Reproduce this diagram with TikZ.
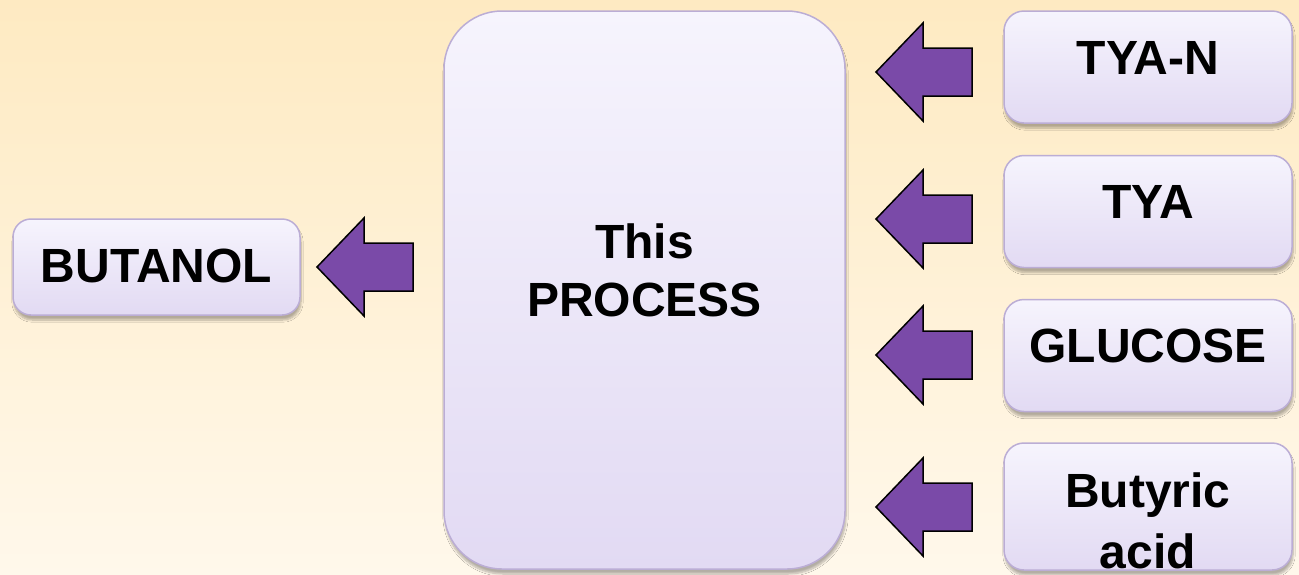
\documentclass[tikz,border=0pt]{standalone}
\usepackage{fontspec}
\setmainfont{Liberation Sans}
\usetikzlibrary{shadows.blur}
\definecolor{bgtop}{HTML}{FEEAC2}
\definecolor{bgbot}{HTML}{FFF8EB}
\definecolor{boxtop}{HTML}{F6F4FD}
\definecolor{boxbot}{HTML}{E2DAF3}
\definecolor{boxline}{HTML}{BBADD5}
\definecolor{arrowfill}{HTML}{7A4AA8}
\newcommand\blockarrow[1]{\draw[barrow] (#1) -- ++(47,-49) -- ++(0,25) -- ++(49,0) -- ++(0,48) -- ++(-49,0) -- ++(0,25) -- cycle;}
\begin{document}
\begin{tikzpicture}[x=1pt,y=-1pt,
  box/.style={draw=boxline, line width=1.5pt, top color=boxtop, bottom color=boxbot,
    inner sep=0pt, align=center, font=\fontsize{48}{60}\selectfont\bfseries,
    blur shadow={shadow xshift=1pt, shadow yshift=-5pt, shadow blur steps=8, shadow opacity=30}},
  inbox/.style={box, minimum width=288pt, minimum height=112pt, rounded corners=20pt, text height=40pt, text depth=26pt},
  barrow/.style={draw=black, line width=1.5pt, fill=arrowfill, line join=miter}]
\shade[top color=bgtop, bottom color=bgbot] (0,0) rectangle (1299,574);
\useasboundingbox (0,0) rectangle (1299,574);

\node[box, minimum width=401pt, minimum height=558pt, rounded corners=58pt,
  text height=52pt, text depth=0pt, font=\fontsize{48}{58}\selectfont\bfseries] (proc) at (644.5,290) {This\\PROCESS};
\node[box, minimum width=287pt, minimum height=96pt, rounded corners=18pt,
  text height=40pt, text depth=10pt] (but) at (156.5,267) {BUTANOL};

\node[inbox] (tyan) at (1148,67) {TYA-N};
\node[inbox] (tya) at (1148,211.5) {TYA};
\node[inbox] (glu) at (1148,355.5) {GLUCOSE};
\node[box, minimum width=288pt, minimum height=127pt, rounded corners=20pt,
  text height=124pt, text depth=0pt, font=\fontsize{48}{61}\selectfont\bfseries] (bacid) at (1148,506.5) {Butyric\\acid};

\coordinate (aout) at (317,267);
\coordinate (a1) at (876,72);
\coordinate (a2) at (876,219);
\coordinate (a3) at (876,355);
\coordinate (a4) at (876,507);
\blockarrow{aout}
\blockarrow{a1}
\blockarrow{a2}
\blockarrow{a3}
\blockarrow{a4}
\end{tikzpicture}
\end{document}
